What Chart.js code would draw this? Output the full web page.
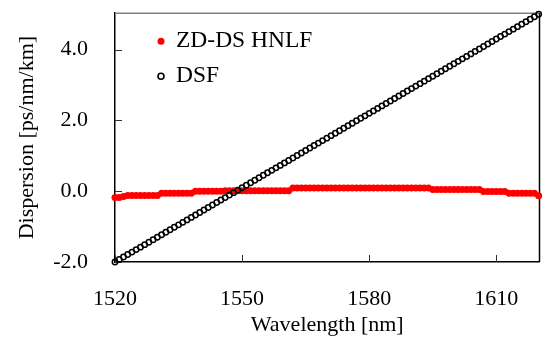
<!DOCTYPE html>
<html>
<head>
<meta charset="utf-8">
<script src="https://cdn.jsdelivr.net/npm/chart.js@4/dist/chart.umd.min.js"></script>
<style>
body{margin:0;background:#fff}
.box{width:545px;height:340px;position:relative}
</style>
</head>
<body>
<div class="box"><canvas id="ctx"></canvas></div>
<script>
//横坐标 波长 nm
const wavelength = [1520, 1521, 1522, 1523, 1524, 1525, 1526, 1527, 1528, 1529,
    1530, 1531, 1532, 1533, 1534, 1535, 1536, 1537, 1538, 1539,
    1540, 1541, 1542, 1543, 1544, 1545, 1546, 1547, 1548, 1549,
    1550, 1551, 1552, 1553, 1554, 1555, 1556, 1557, 1558, 1559,
    1560, 1561, 1562, 1563, 1564, 1565, 1566, 1567, 1568, 1569,
    1570, 1571, 1572, 1573, 1574, 1575, 1576, 1577, 1578, 1579,
    1580, 1581, 1582, 1583, 1584, 1585, 1586, 1587, 1588, 1589,
    1590, 1591, 1592, 1593, 1594, 1595, 1596, 1597, 1598, 1599,
    1600, 1601, 1602, 1603, 1604, 1605, 1606, 1607, 1608, 1609,
    1610, 1611, 1612, 1613, 1614, 1615, 1616, 1617, 1618, 1619,
    1620]
//ZD-DS HNLF 色散
const hnlf = [-0.18, -0.18, -0.15, -0.12, -0.12, -0.12, -0.12, -0.12, -0.12, -0.12,
    -0.12, -0.06, -0.06, -0.06, -0.06, -0.06, -0.06, -0.06, -0.06, 0.00,
    0.00, 0.00, 0.00, 0.00, 0.00, 0.00, 0.01, 0.01, 0.01, 0.01,
    0.01, 0.01, 0.01, 0.01, 0.01, 0.01, 0.01, 0.01, 0.01, 0.01,
    0.01, 0.01, 0.09, 0.09, 0.09, 0.09, 0.09, 0.09, 0.09, 0.09,
    0.09, 0.09, 0.09, 0.09, 0.09, 0.09, 0.09, 0.09, 0.09, 0.09,
    0.09, 0.09, 0.09, 0.09, 0.09, 0.09, 0.09, 0.09, 0.09, 0.09,
    0.09, 0.09, 0.09, 0.09, 0.09, 0.05, 0.05, 0.05, 0.05, 0.05,
    0.05, 0.05, 0.05, 0.05, 0.05, 0.05, 0.05, -0.01, -0.01, -0.01,
    -0.01, -0.01, -0.01, -0.06, -0.06, -0.06, -0.06, -0.06, -0.06, -0.06,
    -0.13]
//DSF 色散
const dsf = [-2.00, -1.93, -1.86, -1.79, -1.72, -1.65, -1.58, -1.51, -1.44, -1.37,
    -1.30, -1.23, -1.16, -1.09, -1.02, -0.95, -0.88, -0.81, -0.74, -0.67,
    -0.60, -0.53, -0.46, -0.39, -0.32, -0.25, -0.18, -0.11, -0.04, 0.03,
    0.10, 0.17, 0.24, 0.31, 0.38, 0.45, 0.52, 0.59, 0.66, 0.73,
    0.80, 0.87, 0.94, 1.01, 1.08, 1.15, 1.22, 1.29, 1.36, 1.43,
    1.50, 1.57, 1.64, 1.71, 1.78, 1.85, 1.92, 1.99, 2.06, 2.13,
    2.20, 2.27, 2.34, 2.41, 2.48, 2.55, 2.62, 2.69, 2.76, 2.83,
    2.90, 2.97, 3.04, 3.11, 3.18, 3.25, 3.32, 3.39, 3.46, 3.53,
    3.60, 3.67, 3.74, 3.81, 3.88, 3.95, 4.02, 4.09, 4.16, 4.23,
    4.30, 4.37, 4.44, 4.51, 4.58, 4.65, 4.72, 4.79, 4.86, 4.93,
    5.00]
const names = ['ZD-DS HNLF', 'DSF']
const x_ticks = [1520, 1550, 1580, 1610]
const y_ticks = [-2, 0, 2, 4]

const serif = 'Liberation Serif'

//内向刻度 + 上右边框
const frame = {
    id: 'frame',
    beforeDatasetsDraw(chart) {
        const { ctx, chartArea: { left, right, top, bottom }, scales: { x, y } } = chart
        ctx.save()
        ctx.strokeStyle = '#333'
        ctx.lineWidth = 1
        ctx.beginPath()
        for (const v of x_ticks) {
            const px = Math.round(x.getPixelForValue(v)) + 0.5
            ctx.moveTo(px, bottom)
            ctx.lineTo(px, bottom - 7)
        }
        for (const v of y_ticks) {
            const py = Math.round(y.getPixelForValue(v)) + 0.5
            ctx.moveTo(left, py)
            ctx.lineTo(left + 7, py)
        }
        ctx.stroke()
        ctx.lineWidth = 1.5
        ctx.strokeStyle = '#808080'
        ctx.beginPath()
        ctx.moveTo(left, top)
        ctx.lineTo(right, top)
        ctx.stroke()
        ctx.strokeStyle = '#000'
        ctx.beginPath()
        ctx.moveTo(right, top)
        ctx.lineTo(right, bottom)
        ctx.stroke()
        ctx.restore()
    }
}

//图内图例
const legend_in = {
    id: 'legend_in',
    afterDraw(chart) {
        const { ctx, chartArea: { left, top } } = chart
        const sets = chart.data.datasets
        ctx.save()
        ctx.font = `23.5px "${serif}"`
        ctx.textBaseline = 'middle'
        sets.forEach((set, i) => {
            const cx = left + 46
            const cy = top + 28 + i * 35
            ctx.beginPath()
            if (i === 0) {
                ctx.arc(cx, cy, 3.5, 0, Math.PI * 2)
                ctx.fillStyle = set.pointBackgroundColor
                ctx.fill()
            } else {
                ctx.arc(cx, cy, 3, 0, Math.PI * 2)
                ctx.lineWidth = 1.6
                ctx.strokeStyle = set.pointBorderColor
                ctx.stroke()
            }
            ctx.fillStyle = '#000'
            ctx.fillText(set.label, cx + 15, cy)
        })
        ctx.restore()
    }
}

function render_chart() {
    const data = {
        datasets: [
            {
                label: names[0],
                data: wavelength.map((w, i) => ({ x: w, y: hnlf[i] })),
                pointRadius: 3.5,
                pointBackgroundColor: '#ff0000',
                pointBorderColor: '#ff0000',
                pointBorderWidth: 0,
                showLine: false,
                clip: false,
                order: 1
            },
            {
                label: names[1],
                data: wavelength.map((w, i) => ({ x: w, y: dsf[i] })),
                pointRadius: 2.7,
                pointBackgroundColor: 'rgba(0,0,0,0)',
                pointBorderColor: '#000',
                pointBorderWidth: 1.5,
                showLine: false,
                clip: false,
                order: 0
            }
        ]
    }

    //透明刻度线占位, 让标签离轴远一点但不撑大边距
    const hide_grid = len => ({
        display: true,
        drawOnChartArea: false,
        drawTicks: true,
        tickLength: len,
        tickColor: 'rgba(0,0,0,0)'
    })

    const config = {
        type: 'scatter',
        data: data,
        options: {
            responsive: true,
            maintainAspectRatio: false,
            animation: false,
            events: [],
            layout: { padding: { top: 9, right: 2, left: 0, bottom: 0 } },
            plugins: {
                legend: { display: false },
                tooltip: { enabled: false }
            },
            scales: {
                x: {
                    type: 'linear',
                    min: 1520,
                    max: 1620.2,
                    afterFit: s => { s.height = 78 },
                    afterBuildTicks: s => { s.ticks = x_ticks.map(v => ({ value: v })) },
                    grid: hide_grid(24),
                    border: { display: true, color: '#000', width: 1.5 },
                    ticks: {
                        color: '#000',
                        padding: 0,
                        maxRotation: 0,
                        font: { family: serif, size: 22 },
                        callback: v => String(v)
                    },
                    title: {
                        display: true,
                        text: 'Wavelength [nm]',
                        color: '#000',
                        font: { family: serif, size: 22, lineHeight: 1.2 },
                        padding: { top: 0, bottom: 2 }
                    }
                },
                y: {
                    min: -2,
                    max: 5.03,
                    afterFit: s => { s.width = 115 },
                    afterBuildTicks: s => { s.ticks = y_ticks.map(v => ({ value: v })) },
                    grid: hide_grid(27),
                    border: { display: true, color: '#000', width: 1.5 },
                    ticks: {
                        color: '#000',
                        padding: 0,
                        font: { family: serif, size: 22 },
                        callback: v => v.toFixed(1)
                    },
                    title: {
                        display: true,
                        text: 'Dispersion [ps/nm/km]',
                        color: '#000',
                        font: { family: serif, size: 22, lineHeight: 1.2 },
                        padding: { top: 14, bottom: 0 }
                    }
                }
            }
        },
        plugins: [frame, legend_in]
    }

    new Chart(document.getElementById('ctx'), config)
}
render_chart()
</script>
</body>
</html>
